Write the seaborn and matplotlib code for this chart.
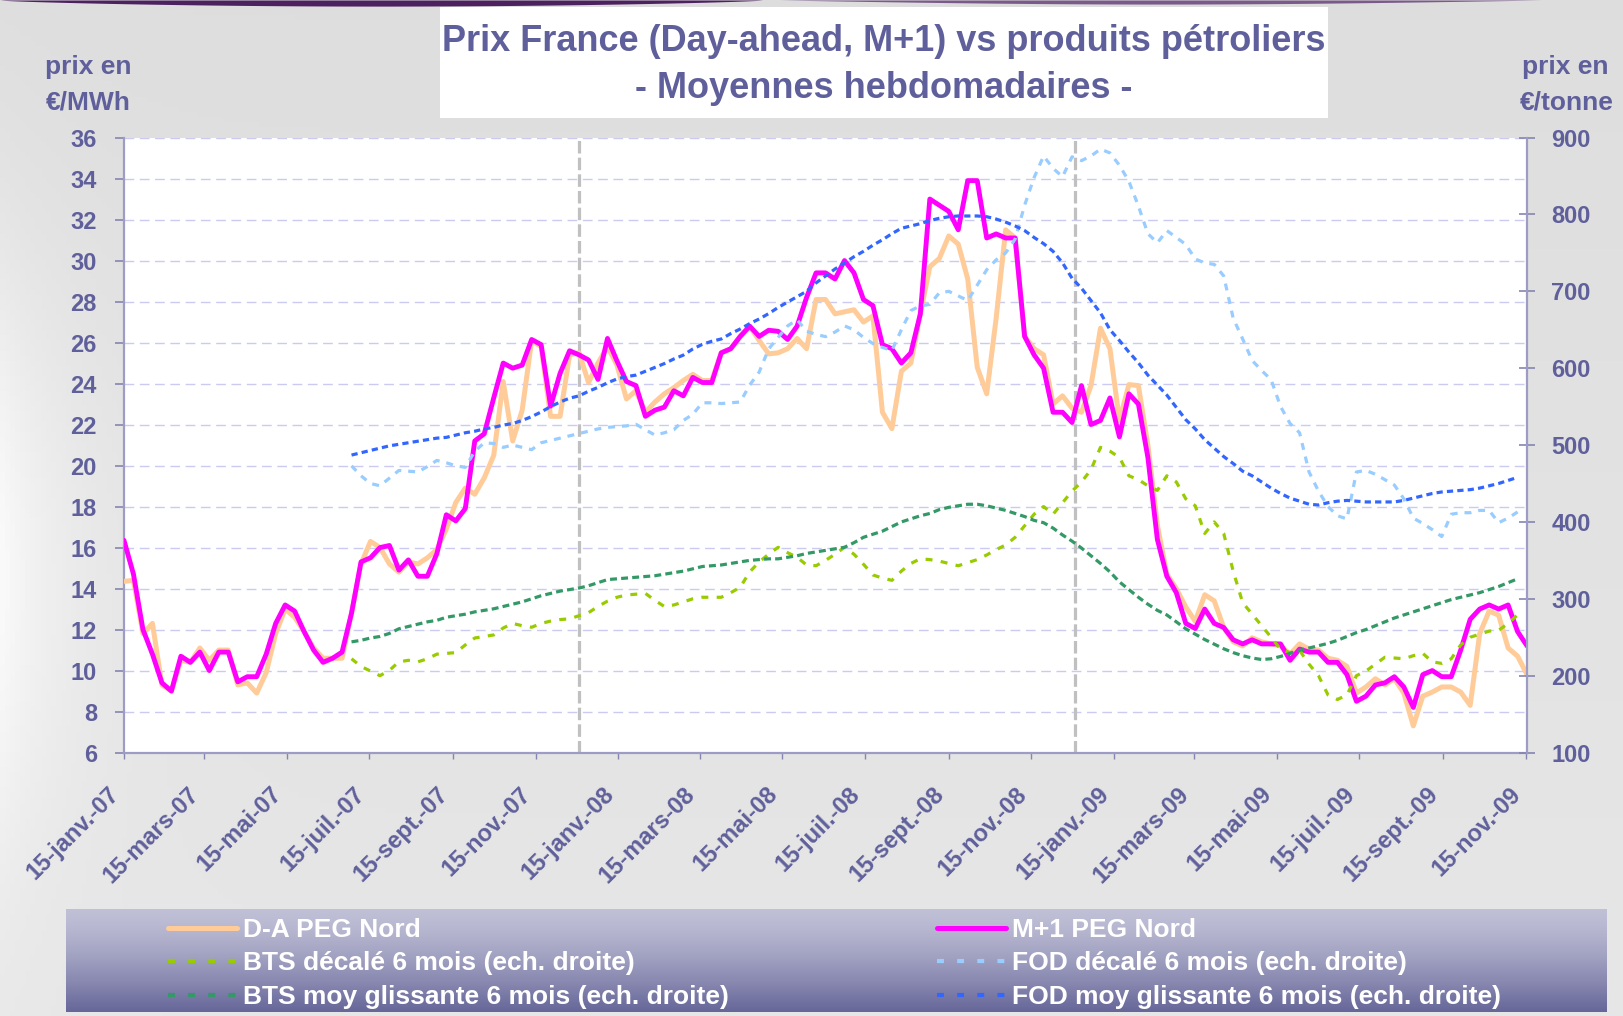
import numpy as np
import pandas as pd
import matplotlib
matplotlib.use("Agg")
import matplotlib.pyplot as plt
from matplotlib.patches import Rectangle
from matplotlib.lines import Line2D
import seaborn as sns

# weekly averages, first week 15 Jan 2007
first_week = "2007-01-15"

# electricity prices, EUR/MWh (left axis)
da_peg_nord = [14.35, 14.4, 11.8, 12.3, 9.3, 9.0, 10.5, 10.4, 11.1, 10.5,
               11.0, 11.0, 9.3, 9.4, 8.9, 9.9, 11.8, 13.0, 12.6, 11.9,
               11.1, 10.6, 10.6, 10.6, 12.8, 15.2, 16.3, 16.0, 15.2, 14.8,
               15.3, 15.2, 15.5, 15.9, 16.9, 18.2, 18.9, 18.6, 19.4, 20.5,
               24.1, 21.2, 22.7, 26.1, 25.8, 22.4, 22.4, 25.4, 25.5, 24.05,
               25.0, 25.8, 24.9, 23.25, 23.65, 22.6, 23.1, 23.5, 23.8, 24.15,
               24.45, 24.15, 24.15, 25.5, 25.7, 26.3, 26.8, 26.1, 25.45, 25.5,
               25.7, 26.2, 25.7, 28.1, 28.1, 27.4, 27.5, 27.6, 27.0, 27.3,
               22.6, 21.8, 24.6, 25.0, 27.4, 29.7, 30.1, 31.2, 30.8, 29.1,
               24.8, 23.5, 27.2, 31.5, 31.1, 26.3, 25.7, 25.4, 23.0, 23.4,
               22.8, 22.6, 23.9, 26.7, 25.7, 22.2, 23.95, 23.9, 21.0, 17.1,
               14.7, 14.0, 13.1, 12.4, 13.7, 13.4, 12.1, 11.4, 11.2, 11.6,
               11.4, 11.3, 11.2, 10.8, 11.3, 11.05, 11.0, 10.6, 10.5, 10.2,
               8.9, 9.2, 9.6, 9.3, 9.6, 8.9, 7.3, 8.75, 8.95, 9.2,
               9.2, 8.95, 8.3, 11.8, 12.9, 12.7, 11.1, 10.7, 9.8]

m1_peg_nord = [16.35, 14.7, 12.0, 10.8, 9.4, 9.0, 10.7, 10.4, 10.9, 10.0,
               10.9, 10.9, 9.45, 9.7, 9.7, 10.8, 12.3, 13.2, 12.9, 11.9,
               11.0, 10.4, 10.6, 10.9, 12.8, 15.3, 15.5, 16.0, 16.1, 14.9,
               15.4, 14.6, 14.6, 15.7, 17.6, 17.3, 17.9, 21.2, 21.55, 23.3,
               25.0, 24.75, 24.9, 26.15, 25.9, 22.9, 24.5, 25.6, 25.4, 25.15,
               24.2, 26.2, 25.1, 24.1, 23.9, 22.4, 22.7, 22.85, 23.65, 23.4,
               24.3, 24.05, 24.05, 25.5, 25.7, 26.3, 26.8, 26.3, 26.6, 26.55,
               26.15, 26.8, 28.2, 29.4, 29.4, 29.1, 30.0, 29.4, 28.1, 27.8,
               25.9, 25.7, 25.0, 25.5, 27.4, 33.0, 32.7, 32.4, 31.5, 33.9,
               33.9, 31.1, 31.3, 31.1, 31.1, 26.3, 25.4, 24.75, 22.6, 22.6,
               22.1, 23.9, 22.0, 22.2, 23.3, 21.4, 23.5, 23.0, 20.4, 16.4,
               14.6, 13.8, 12.3, 12.05, 13.0, 12.3, 12.1, 11.5, 11.3, 11.5,
               11.3, 11.3, 11.3, 10.5, 11.05, 10.9, 10.9, 10.4, 10.4, 9.8,
               8.5, 8.75, 9.3, 9.4, 9.7, 9.2, 8.2, 9.8, 10.0, 9.7,
               9.7, 11.0, 12.5, 13.0, 13.2, 13.0, 13.2, 11.9, 11.2]

# oil products, EUR/tonne (right axis), start at week 24
oil_start_week = 24
bts_decale = [222, 212, 206, 200, 207, 218, 220, 218, 222, 228,
              229, 230, 240, 249, 251, 253, 262, 268, 265, 263,
              268, 271, 273, 274, 278, 282, 290, 297, 302, 305,
              306, 307, 298, 290, 292, 296, 300, 302, 302, 302,
              308, 315, 335, 348, 358, 367, 360, 354, 344, 343,
              350, 358, 367, 358, 345, 331, 327, 324, 336, 346,
              352, 351, 349, 346, 343, 347, 351, 357, 364, 370,
              380, 395, 410, 420, 410, 425, 440, 452, 468, 497,
              492, 484, 460, 455, 447, 441, 460, 452, 430, 421,
              385, 400, 385, 336, 295, 280, 265, 250, 234, 230,
              233, 215, 200, 175, 169, 175, 200, 206, 215, 224,
              223, 222, 226, 229, 218, 216, 222, 240, 250, 254,
              258, 259, 268, 279]

bts_moy = [244, 246, 249, 251, 255, 261, 264, 267, 270, 272,
           276, 278, 280, 283, 285, 287, 290, 293, 296, 300,
           304, 307, 310, 312, 314, 317, 321, 325, 326, 327,
           328, 329, 330, 332, 334, 336, 339, 342, 343, 344,
           346, 348, 350, 351, 352, 352, 354, 356, 359, 361,
           363, 365, 367, 373, 380, 384, 388, 394, 400, 404,
           408, 411, 416, 419, 421, 423, 423, 421, 418, 415,
           411, 407, 402, 399, 392, 383, 375, 366, 356, 346,
           335, 322, 312, 302, 293, 285, 279, 270, 261, 254,
           247, 241, 235, 230, 226, 223, 221, 222, 225, 229,
           233, 236, 239, 242, 246, 251, 256, 260, 265, 270,
           275, 279, 283, 287, 291, 295, 299, 302, 305, 308,
           312, 316, 321, 326]

fod_decale = [473, 460, 450, 447, 457, 467, 466, 465, 472, 480,
              477, 473, 471, 492, 503, 502, 497, 500, 497, 494,
              503, 506, 509, 512, 515, 518, 521, 523, 524, 525,
              527, 520, 513, 516, 520, 532, 540, 555, 555, 554,
              555, 556, 578, 595, 625, 640, 655, 663, 648, 644,
              641, 647, 655, 650, 640, 632, 627, 623, 650, 675,
              681, 683, 698, 700, 694, 688, 708, 728, 741, 750,
              768, 812, 848, 876, 860, 849, 875, 870, 876, 885,
              880, 864, 843, 811, 775, 763, 779, 770, 761, 742,
              737, 735, 720, 665, 638, 610, 597, 585, 550, 528,
              516, 465, 440, 420, 408, 404, 465, 467, 462, 455,
              448, 430, 405, 398, 390, 381, 410, 412, 412, 415,
              415, 399, 405, 413]

fod_moy = [487, 490, 493, 496, 499, 501, 503, 505, 507, 509,
           510, 513, 516, 518, 521, 523, 526, 528, 532, 537,
           543, 550, 556, 561, 564, 570, 575, 581, 586, 589,
           591, 596, 601, 606, 612, 617, 625, 631, 635, 638,
           645, 651, 658, 664, 671, 679, 686, 693, 700, 711,
           720, 729, 737, 745, 752, 760, 767, 775, 782, 785,
           788, 792, 795, 797, 798, 798, 798, 797, 794, 790,
           785, 779, 770, 762, 752, 737, 717, 704, 688, 672,
           650, 636, 621, 607, 591, 578, 565, 549, 533, 521,
           507, 496, 485, 476, 466, 460, 452, 444, 437, 431,
           427, 423, 422, 425, 427, 428, 427, 426, 426, 426,
           426, 428, 431, 434, 437, 439, 440, 441, 442, 444,
           447, 450, 454, 458]

tick_dates = ["2007-01-15", "2007-03-15", "2007-05-15", "2007-07-15", "2007-09-15", "2007-11-15",
              "2008-01-15", "2008-03-15", "2008-05-15", "2008-07-15", "2008-09-15", "2008-11-15",
              "2009-01-15", "2009-03-15", "2009-05-15", "2009-07-15", "2009-09-15", "2009-11-15"]
tick_labels = ["15-janv.-07", "15-mars-07", "15-mai-07", "15-juil.-07", "15-sept.-07", "15-nov.-07",
               "15-janv.-08", "15-mars-08", "15-mai-08", "15-juil.-08", "15-sept.-08", "15-nov.-08",
               "15-janv.-09", "15-mars-09", "15-mai-09", "15-juil.-09", "15-sept.-09", "15-nov.-09"]
year_marks = ["2007-12-17", "2008-12-17"]

weeks = pd.date_range(first_week, periods=len(m1_peg_nord), freq="7D")
oil_weeks = weeks[oil_start_week:oil_start_week + len(fod_moy)]

elec = pd.DataFrame({"date": weeks, "da": da_peg_nord, "m1": m1_peg_nord})
oil = pd.DataFrame({"date": oil_weeks, "bts_dec": bts_decale, "bts_moy": bts_moy,
                    "fod_dec": fod_decale, "fod_moy": fod_moy})

sns.set_theme(style="white")
plt.rcParams['font.family'] = ['Liberation Sans', 'DejaVu Sans']
plt.rcParams['font.weight'] = 'bold'
plt.rcParams['lines.scale_dashes'] = False

TXT = '#5f5f9b'
AXC = '#9c9cc4'

fig = plt.figure(figsize=(16.23, 10.16), dpi=100)

# slide background
bg = fig.add_axes([0, 0, 1, 1], zorder=-10)
yy, xx = np.mgrid[0:200, 0:320]
shade = 0.87 + 0.035 * (yy / 200.0)
shade = shade + 0.09 * np.exp(-xx / 14.0) * np.exp(-((yy / 200.0 - 0.55) / 0.3) ** 2)
shade = np.clip(shade, 0, 1)
bg.imshow(np.dstack([shade, shade, shade]), extent=(0, 1, 0, 1), aspect='auto', origin='upper')
# purple swoosh at the top
sx = np.linspace(0.0, 0.47, 200)
thick = 0.006 * np.sin(np.pi * sx / 0.47) ** 0.7
bg.fill_between(sx, 1 - thick, 1, color='#4d2160', lw=0)
sx2 = np.linspace(0.48, 0.95, 200)
thick2 = 0.004 * np.sin(np.pi * (sx2 - 0.48) / 0.47)
bg.fill_between(sx2, 1 - thick2, 1, color='#7a5a8a', lw=0)
# title box
bg.add_patch(Rectangle((0.2711, 0.8839), 0.5471, 0.1092, color='white', lw=0))
# legend band
t = np.linspace(0, 1, 100)[:, None] ** 1.4
top_c = np.array([0.75, 0.75, 0.84])
bot_c = np.array([0.40, 0.40, 0.60])
band = (1 - t)[..., None] * top_c + t[..., None] * bot_c
band = np.repeat(band, 4, axis=1)
bg.imshow(band, extent=(0.0407, 0.9901, 0.0039, 0.1043), aspect='auto', origin='upper')
bg.set_xlim(0, 1)
bg.set_ylim(0, 1)
bg.axis('off')

# main axes
ax = fig.add_axes([0.0764, 0.2593, 0.8645, 0.6053])
ax.set_facecolor('white')
for d in year_marks:
    ax.axvline(pd.Timestamp(d), color='#c0c0c0', lw=2.3, linestyle=(0, (9, 3)), zorder=1)

sns.lineplot(data=elec, x="date", y="da", ax=ax, color='#ffcc99', lw=3.6,
             legend=False, zorder=3)
sns.lineplot(data=elec, x="date", y="m1", ax=ax, color='#ff00ff', lw=3.5,
             legend=False, zorder=4)

ax.set_ylim(6, 36)
ax.set_yticks(range(6, 37, 2))
ax.set_xlim(weeks[0], weeks[-1])
ax.set_xticks(pd.to_datetime(tick_dates))
ax.set_xticklabels(tick_labels, rotation=45, ha='right')
ax.yaxis.grid(True, color='#cbcbf2', linestyle=(0, (7, 4)), lw=1)
ax.xaxis.grid(False)
ax.set_xlabel("")
ax.set_ylabel("")

ax2 = ax.twinx()
sns.lineplot(data=oil, x="date", y="bts_dec", ax=ax2, color='#99cc00', lw=2.3,
             linestyle=(0, (5, 6)), legend=False)
sns.lineplot(data=oil, x="date", y="bts_moy", ax=ax2, color='#339966', lw=2.3,
             linestyle=(0, (5, 3)), legend=False)
sns.lineplot(data=oil, x="date", y="fod_dec", ax=ax2, color='#99ccff', lw=2.3,
             linestyle=(0, (5, 5)), legend=False)
sns.lineplot(data=oil, x="date", y="fod_moy", ax=ax2, color='#3366ff', lw=2.3,
             linestyle=(0, (4.5, 3)), legend=False)
ax2.set_ylim(100, 900)
ax2.set_yticks(range(100, 901, 100))
ax2.set_ylabel("")
ax2.grid(False)

for a in (ax, ax2):
    for s in a.spines.values():
        s.set_visible(False)
ax.spines['left'].set_visible(True)
ax.spines['bottom'].set_visible(True)
ax2.spines['right'].set_visible(True)
for s in (ax.spines['left'], ax.spines['bottom'], ax2.spines['right']):
    s.set_color(AXC)
    s.set_linewidth(1.6)

ax.tick_params(axis='y', direction='out', length=6.5, width=1.2, color='#8585b0',
               labelsize=17, labelcolor=TXT, pad=13, left=True)
ax.tick_params(axis='x', direction='out', length=4.5, width=1.0, color='#8585b0',
               labelsize=17, labelcolor=TXT, pad=17, bottom=True)
ax2.tick_params(axis='y', direction='inout', length=11, width=1.2, color='#8585b0',
                labelsize=17, labelcolor=TXT, pad=12, right=True)

# titles and axis captions
fig.text(0.5447, 0.9588, "Prix France (Day-ahead, M+1) vs produits pétroliers",
         ha='center', va='center', fontsize=26, color=TXT)
fig.text(0.5447, 0.9128, "- Moyennes hebdomadaires -",
         ha='center', va='center', fontsize=26, color=TXT)
fig.text(0.0542, 0.9345, "prix en", ha='center', va='center', fontsize=19, color=TXT)
fig.text(0.0542, 0.8995, "€/MWh", ha='center', va='center', fontsize=19, color=TXT)
fig.text(0.9645, 0.9345, "prix en", ha='center', va='center', fontsize=19, color=TXT)
fig.text(0.9655, 0.8995, "€/tonne", ha='center', va='center', fontsize=19, color=TXT)

# legend in two columns, with the slide's dotted handle style
def handle(color, lw, dashed):
    if dashed:
        return Line2D([], [], color=color, lw=lw, linestyle=(0, (5, 9.5)), solid_capstyle='butt')
    return Line2D([], [], color=color, lw=lw, solid_capstyle='round')

leg_kw = dict(loc='upper left', frameon=False, fontsize=19, labelcolor='white',
              handlelength=2.6, handletextpad=0.25, labelspacing=0.36,
              borderpad=0, borderaxespad=0)
fig.legend([handle('#ffcc99', 3.6, False), handle('#99cc00', 3.0, True), handle('#339966', 3.0, True)],
           ["D-A PEG Nord", "BTS décalé 6 mois (ech. droite)", "BTS moy glissante 6 mois (ech. droite)"],
           bbox_to_anchor=(0.1035, 0.0965), **leg_kw)
fig.legend([handle('#ff00ff', 3.6, False), handle('#99ccff', 3.0, True), handle('#3366ff', 3.0, True)],
           ["M+1 PEG Nord", "FOD décalé 6 mois (ech. droite)", "FOD moy glissante 6 mois (ech. droite)"],
           bbox_to_anchor=(0.5773, 0.0965), **leg_kw)

fig.savefig("out.png", dpi=100)
